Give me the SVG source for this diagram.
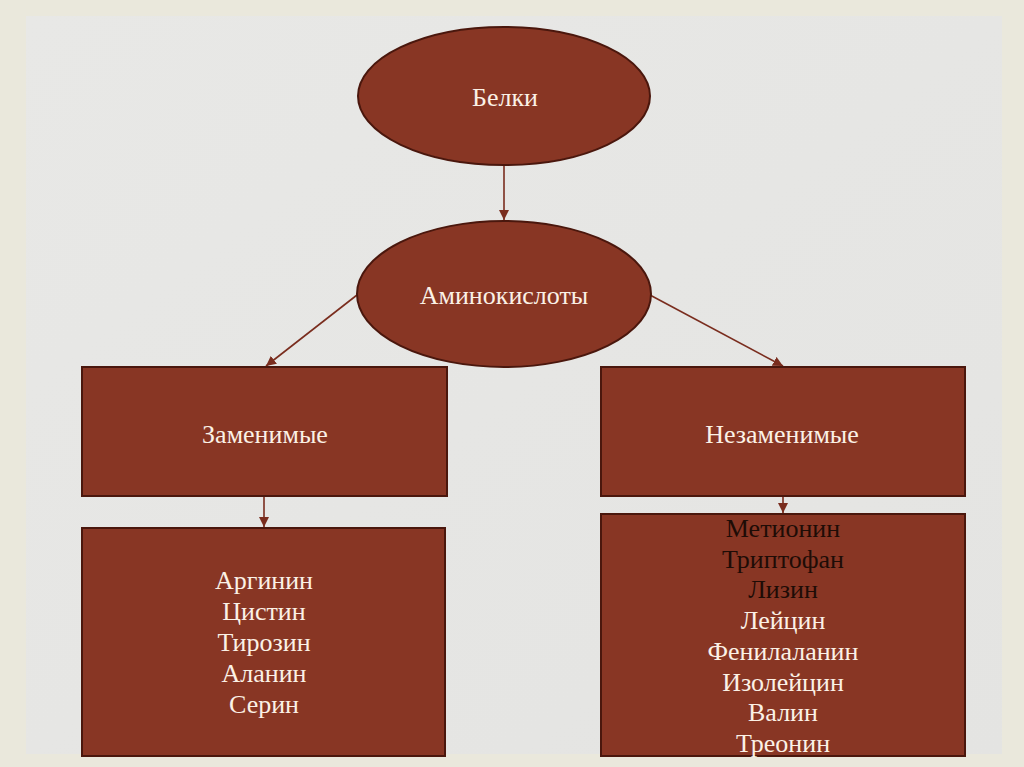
<svg xmlns="http://www.w3.org/2000/svg" width="1024" height="767" viewBox="0 0 1024 767">
<defs>
<style>
.node{fill:#883624;stroke:#4a170d;stroke-width:2}
.t{font-family:"Liberation Serif","Times New Roman",serif;font-size:26px;text-anchor:middle}
.w{fill:#fbf1e6}
.k{fill:#1e0c06}
.c{stroke:#7a2d1e;stroke-width:1.6;fill:none;marker-end:url(#ah)}
</style>
<marker id="ah" viewBox="0 0 10 10" refX="10" refY="5" markerWidth="10" markerHeight="10" markerUnits="userSpaceOnUse" orient="auto">
<path d="M0,0 L10,5 L0,10 z" fill="#7a2d1e"/>
</marker>
<linearGradient id="bg" x1="0" y1="0" x2="1" y2="1">
<stop offset="0" stop-color="#e8e8e6"/>
<stop offset="1" stop-color="#e4e4e2"/>
</linearGradient>
</defs>
<rect x="0" y="0" width="1024" height="767" fill="#eae8dc"/>
<rect x="26" y="16" width="976" height="738" fill="url(#bg)"/>
<g id="connectors">
<line class="c" x1="504" y1="166" x2="504" y2="220"/>
<line class="c" x1="357" y1="295" x2="266" y2="366"/>
<line class="c" x1="650" y1="295" x2="783" y2="366"/>
<line class="c" x1="264" y1="497" x2="264" y2="527"/>
<line class="c" x1="783" y1="497" x2="783" y2="513"/>
</g>
<g id="belki">
<ellipse class="node" cx="504" cy="96" rx="146" ry="69"/>
<text class="t w" x="505" y="106">Белки</text>
</g>
<g id="aminokisloty">
<ellipse class="node" cx="504" cy="294" rx="147" ry="73"/>
<text class="t w" x="504" y="304">Аминокислоты</text>
</g>
<g id="zamenimye">
<rect class="node" x="82" y="367" width="365" height="129"/>
<text class="t w" x="265" y="443">Заменимые</text>
</g>
<g id="nezamenimye">
<rect class="node" x="601" y="367" width="364" height="129"/>
<text class="t w" x="782" y="443">Незаменимые</text>
</g>
<g id="zamenimye-list">
<rect class="node" x="82" y="528" width="363" height="228"/>
<text class="t w" x="264" y="589">Аргинин</text>
<text class="t w" x="264" y="620">Цистин</text>
<text class="t w" x="264" y="651">Тирозин</text>
<text class="t w" x="264" y="682">Аланин</text>
<text class="t w" x="264" y="713">Серин</text>
</g>
<g id="nezamenimye-list">
<rect class="node" x="601" y="514" width="364" height="242"/>
<text class="t k" x="783" y="537">Метионин</text>
<text class="t k" x="783" y="568">Триптофан</text>
<text class="t k" x="783" y="598">Лизин</text>
<text class="t w" x="783" y="629">Лейцин</text>
<text class="t w" x="783" y="660">Фенилаланин</text>
<text class="t w" x="783" y="691">Изолейцин</text>
<text class="t w" x="783" y="721">Валин</text>
<text class="t w" x="783" y="752">Треонин</text>
</g>
</svg>
